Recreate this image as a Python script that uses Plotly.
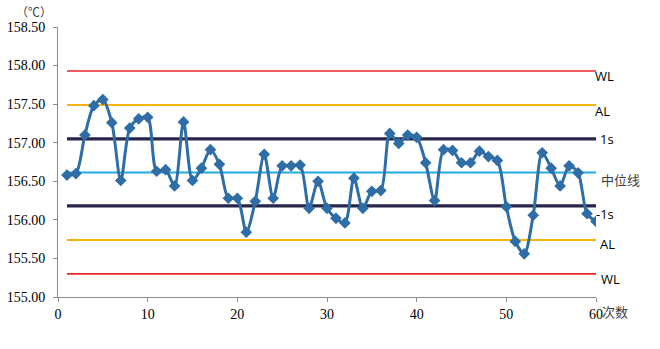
import plotly.graph_objects as go

# Measurement run: sample number and measured temperature (℃)
runs = list(range(1, 61))
temps = [
    156.58, 156.60, 157.10, 157.48, 157.56, 157.26, 156.51, 157.19, 157.31, 157.33,
    156.63, 156.65, 156.44, 157.27, 156.51, 156.67, 156.91, 156.72, 156.28, 156.28,
    155.84, 156.24, 156.85, 156.28, 156.70, 156.70, 156.71, 156.15, 156.50, 156.15,
    156.02, 155.96, 156.54, 156.15, 156.37, 156.38, 157.12, 156.99, 157.10, 157.07,
    156.74, 156.25, 156.91, 156.90, 156.74, 156.74, 156.89, 156.82, 156.77, 156.17,
    155.72, 155.56, 156.06, 156.87, 156.67, 156.44, 156.70, 156.61, 156.08, 155.98,
]

# Control limits (center ± multiples of s)
limit_names = ["WL", "AL", "1s", "中位线", "-1s", "AL", "WL"]
limit_values = [157.93, 157.49, 157.05, 156.615, 156.18, 155.74, 155.30]

y_ticks = [155.00, 155.50, 156.00, 156.50, 157.00, 157.50, 158.00, 158.50]
x_ticks = [0, 10, 20, 30, 40, 50, 60]

SERIF = "Times New Roman"

# styling for each limit line: colour, width, label colour, label shift (px)
limit_styles = [
    ("#E8262A", 1.6, "#000000", -5, -3),
    ("#FFB310", 2.0, "#000000", -6, -3),
    ("#27264A", 3.2, "#000000", 0, 2),
    ("#21A9E1", 2.0, "#404040", -7, 3),
    ("#27264A", 3.2, "#000000", -8, -2),
    ("#FFB310", 2.0, "#000000", -4, 2),
    ("#E8262A", 1.6, "#000000", -5, 3),
]

fig = go.Figure()

for name, val, (col, w, _, _, _) in zip(limit_names, limit_values, limit_styles):
    fig.add_trace(go.Scatter(
        x=[runs[0], runs[-1]], y=[val, val], mode="lines",
        line=dict(color=col, width=w), hoverinfo="skip", showlegend=False,
    ))

fig.add_trace(go.Scatter(
    x=runs, y=temps, mode="lines+markers",
    line=dict(color="#2E6DA6", width=3, shape="spline", smoothing=0.8),
    marker=dict(symbol="diamond", size=9, color="#2E6DA6"),
    showlegend=False,
))

annotations = []
for name, val, (_, _, tcol, dy, dx) in zip(limit_names, limit_values, limit_styles):
    font_family = "Noto Sans CJK SC" if name == "中位线" else "Open Sans"
    annotations.append(dict(
        x=60, y=val, xref="x", yref="y", text=name, showarrow=False,
        xanchor="left", yanchor="middle", xshift=dx, yshift=dy,
        font=dict(family=font_family, size=13, color=tcol),
    ))

annotations.append(dict(
    x=60, y=155.0, xref="x", yref="y", text="次数", showarrow=False,
    xanchor="left", yanchor="middle", xshift=4, yshift=-14,
    font=dict(family="Noto Sans CJK SC", size=13, color="#404040"),
))
annotations.append(dict(
    x=0, y=158.5, xref="x", yref="y", text="（℃）", showarrow=False,
    xanchor="center", yanchor="middle", xshift=-24, yshift=16,
    font=dict(family="Noto Sans CJK SC", size=12, color="#404040"),
))

fig.update_layout(
    width=660, height=349,
    margin=dict(l=58, r=64, t=27, b=52),
    paper_bgcolor="white", plot_bgcolor="white",
    annotations=annotations,
    xaxis=dict(
        range=[0, 60], tickvals=x_ticks, ticktext=[str(v) for v in x_ticks],
        showgrid=False, zeroline=False, showline=True, linecolor="#8C8C8C", linewidth=1,
        ticks="outside", ticklen=4, tickcolor="#8C8C8C", automargin=False,
        tickfont=dict(family=SERIF, size=14, color="#000000"),
    ),
    yaxis=dict(
        range=[155.0, 158.5], tickvals=y_ticks, ticktext=[f"{v:.2f}" for v in y_ticks],
        showgrid=False, zeroline=False, showline=True, linecolor="#8C8C8C", linewidth=1,
        ticks="outside", ticklen=4, tickcolor="#8C8C8C", ticklabelstandoff=5,
        automargin=False,
        tickfont=dict(family=SERIF, size=14, color="#000000"),
    ),
)

fig.write_html("out.html")
